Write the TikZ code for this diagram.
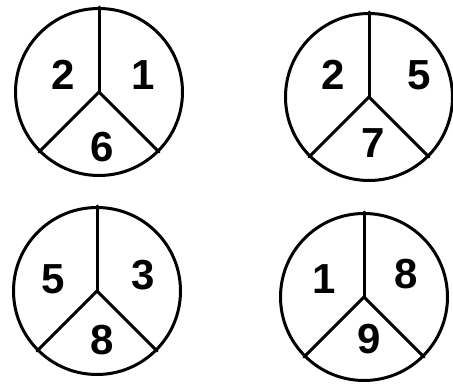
\documentclass[tikz,border=0pt]{standalone}
\usepackage{fontspec}
\setmainfont{Liberation Sans}
\tikzset{
  every picture/.style={line width=3pt},
  wheel/.style={circle, draw, minimum size=167pt, inner sep=0pt, line width=3pt},
  spoke/.style={line width=3pt, line cap=round},
  digit/.style={font=\fontsize{42}{42}\selectfont\bfseries, inner sep=0pt},
}

\begin{document}
\begin{tikzpicture}[x=1pt, y=-1pt]
  \useasboundingbox (0,0) rectangle (453,385);
  % top left
  \begin{scope}
    \node[wheel] (w1) at (99,92) {};
    \foreach \a in {90,-135,-45} \draw[spoke] (w1.center) -- (w1.\a);
    \node[digit] (w1a) at (63,75) {2};
    \node[digit] (w1b) at (143,75) {1};
    \node[digit] (w1c) at (102,147) {6};
  \end{scope}
  % top right
  \begin{scope}
    \node[wheel] (w2) at (369,97) {};
    \foreach \a in {90,-135,-45} \draw[spoke] (w2.center) -- (w2.\a);
    \node[digit] (w2a) at (333,75) {2};
    \node[digit] (w2b) at (419,75) {5};
    \node[digit] (w2c) at (373,143) {7};
  \end{scope}
  % bottom left
  \begin{scope}
    \node[wheel] (w3) at (97,291) {};
    \foreach \a in {90,-135,-45} \draw[spoke] (w3.center) -- (w3.\a);
    \node[digit] (w3a) at (53,279) {5};
    \node[digit] (w3b) at (143,275) {3};
    \node[digit] (w3c) at (102,340) {8};
  \end{scope}
  % bottom right
  \begin{scope}
    \node[wheel] (w4) at (364,297) {};
    \foreach \a in {90,-135,-45} \draw[spoke] (w4.center) -- (w4.\a);
    \node[digit] (w4a) at (324,279) {1};
    \node[digit] (w4b) at (406,274) {8};
    \node[digit] (w4c) at (369,339) {9};
  \end{scope}
\end{tikzpicture}
\end{document}
